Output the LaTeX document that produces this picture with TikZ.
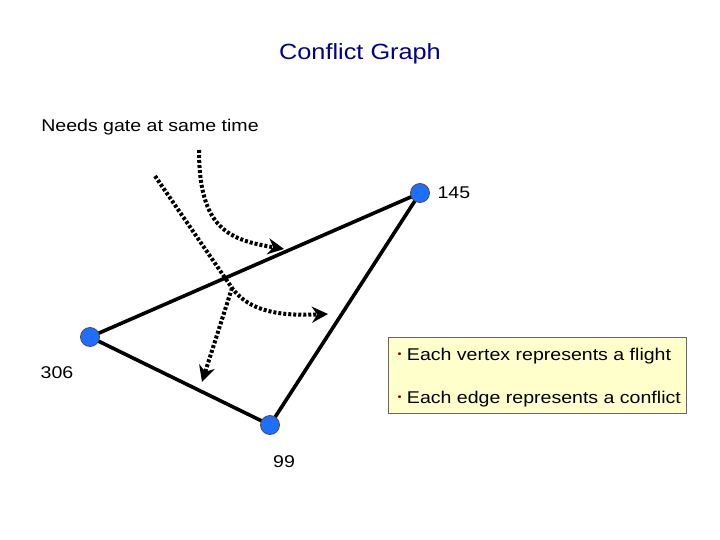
\documentclass[tikz,border=0pt]{standalone}
\usepackage{fontspec}
\setmainfont[FakeStretch=1.15]{Liberation Sans}
\usetikzlibrary{arrows.meta}
\begin{document}
\begin{tikzpicture}[x=1pt,y=-1pt,
  vert/.style={circle,fill={rgb,255:red,30;green,110;blue,255},draw=black!70,line width=0.8pt,minimum size=19pt,inner sep=0pt},
  edge/.style={line width=3.6pt},
  dotarrow/.style={line width=4pt,dash pattern=on 3pt off 2pt,-{Stealth[length=16pt,width=16pt]}},
  lbl/.style={font=\fontsize{17}{19}\selectfont}]
\useasboundingbox (0,0) rectangle (720,540);
\node[font=\fontsize{22}{24}\selectfont,text={rgb,255:red,0;green,0;blue,140}] (title) at (360,54) {Conflict Graph};
\node[lbl] (needs) at (150,127) {Needs gate at same time};
\draw[edge] (420,193) -- (90,337) -- (270,425) -- cycle;
\node[vert] (a) at (420,193) {};
\node[vert] (b) at (90,337) {};
\node[vert] (c) at (270,425) {};
\node[lbl,anchor=west] (la) at (434,193) {145};
\node[lbl] (lb) at (57,373) {306};
\node[lbl] (lc) at (284,462) {99};
\coordinate (s1) at (199,150); \coordinate (e1) at (284,249);
\coordinate (s2) at (155,176); \coordinate (m2) at (232,288); \coordinate (e2) at (328,314);
\coordinate (e3) at (202,382);
\draw[dotarrow] (s1) .. controls (199,230) and (230,240) .. (e1);
\draw[dotarrow] (s2) -- (m2) .. controls (250,312) and (280,316) .. (e2);
\draw[dotarrow] (m2) -- (e3);
\node[draw=black!60,fill={rgb,255:red,255;green,255;blue,204},anchor=north west,minimum width=298pt,minimum height=76pt] (box) at (388,337) {};
\node[lbl,anchor=west] (t1) at (394,356) {\textcolor{red!50!black}{\fontsize{10}{10}\selectfont\raisebox{3pt}{•}}\ Each vertex represents a flight};
\node[lbl,anchor=west] (t2) at (394,399) {\textcolor{red!50!black}{\fontsize{10}{10}\selectfont\raisebox{3pt}{•}}\ Each edge represents a conflict};
\end{tikzpicture}
\end{document}
